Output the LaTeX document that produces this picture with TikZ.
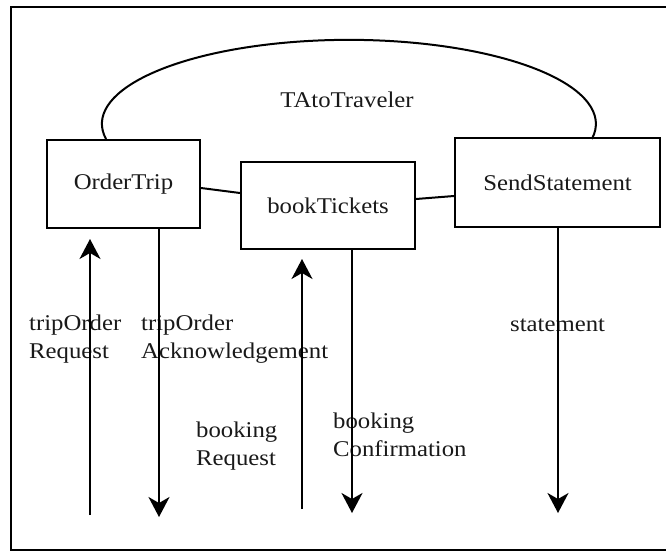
\documentclass[tikz,border=0pt]{standalone}
\usepackage{fontspec}
\setmainfont{Liberation Serif}[FakeStretch=1.1]
\usetikzlibrary{arrows.meta}
\begin{document}
\begin{tikzpicture}[x=1pt,y=-1pt,
  every node/.style={font=\fontsize{22.5}{28}\selectfont, text=black!90},
  box/.style={draw, line width=2pt, inner sep=0pt},
  lbl/.style={inner sep=0pt, align=left},
  conn/.style={line width=2pt},
  arr/.style={line width=2pt, -{Stealth[length=20pt,width=21pt,inset=6pt]}}]
\useasboundingbox (0,0) rectangle (666,552);
% frame (open on the right)
\draw[line width=2pt] (666,7) -- (11,7) -- (11,550) -- (666,550);
% boxes
\node[box, minimum width=153pt, minimum height=88pt] (ot) at (123.5,184) {OrderTrip};
\node[box, minimum width=174pt, minimum height=87pt] (bt) at (328,205.5) {bookTickets};
\node[box, minimum width=205pt, minimum height=89pt] (ss) at (557.5,182.5) {SendStatement};
% ellipse arc
\draw[conn] ([xshift=-17.5pt]ot.north) arc[start angle=169.6, end angle=370.4, x radius=247, y radius=84];
\node[inner sep=0pt] (ta) at (347,100) {TAtoTraveler};
% connectors between boxes
\draw[conn] ([yshift=-4pt]ot.east) -- ([yshift=12.5pt]bt.west);
\draw[conn] ([yshift=6.5pt]bt.east) -- ([yshift=-13.5pt]ss.west);
% message coordinates
\coordinate (c1) at (90,515);
\coordinate (c2) at (159,517);
\coordinate (c3) at (302,509);
\coordinate (c4) at (352,513);
\coordinate (c5) at (558,513);
% labels
\node[lbl, anchor=north west] (l1) at (29,315) {tripOrder\\Request};
\node[lbl, anchor=north west] (l2) at (141,315) {tripOrder\\Acknowledgement};
\node[lbl, anchor=north west] (l3) at (196,422) {booking\\Request};
\node[lbl, anchor=north west] (l4) at (333,413) {booking\\Confirmation};
\node[lbl, anchor=base west] (l5) at (510,331) {statement};
% arrows
\draw[arr, shorten >=10pt] (c1) -- (c1 |- ot.south);
\draw[arr] (c2 |- ot.south) -- (c2);
\draw[arr, shorten >=9pt] (c3) -- (c3 |- bt.south);
\draw[arr] (c4 |- bt.south) -- (c4);
\draw[arr] (c5 |- ss.south) -- (c5);
\end{tikzpicture}
\end{document}
